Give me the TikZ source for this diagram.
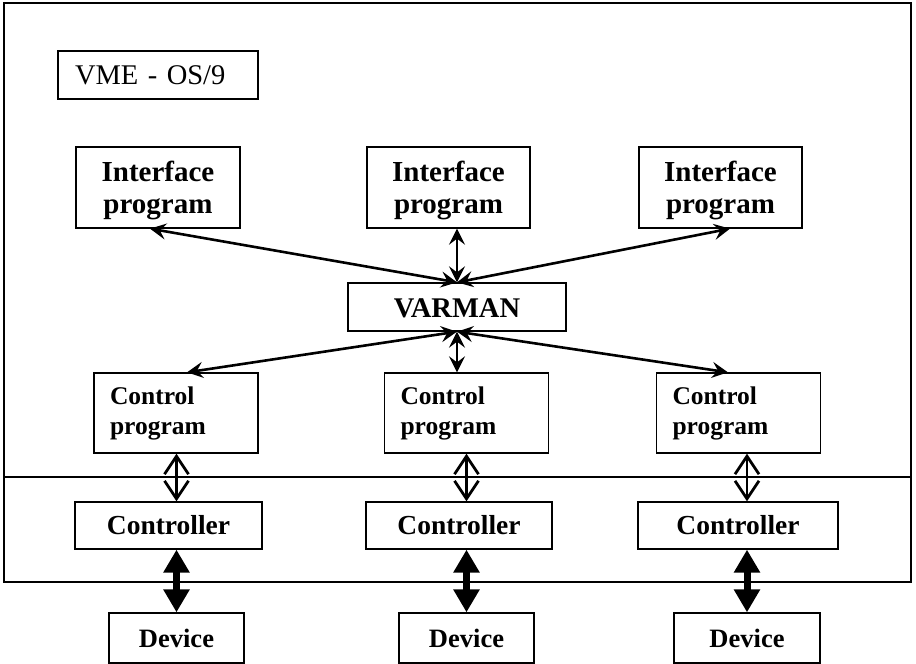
\documentclass[tikz,border=0pt]{standalone}
\usepackage{fontspec}
\setmainfont{Liberation Serif}
\usetikzlibrary{arrows.meta}
\begin{document}
\begin{tikzpicture}[x=1pt,y=-1pt,
  box/.style={draw,line width=1.3pt,inner sep=0pt,align=center,font=\bfseries},
  ifbox/.style={box,minimum width=#1,minimum height=81pt,font=\bfseries\fontsize{29}{32}\selectfont},
  cpbox/.style={box,text width=132pt,inner xsep=16pt,minimum height=80pt,align=left,font=\bfseries\fontsize{25.5}{30}\selectfont},
  ctlbox/.style={box,minimum width=#1,minimum height=47pt,font=\bfseries\fontsize{27.5}{28}\selectfont},
  devbox/.style={box,minimum width=#1,minimum height=50pt,font=\bfseries\fontsize{26.5}{28}\selectfont},
  thinarrow/.style={line width=2.6pt,{Stealth[length=16pt,width=16pt,inset=6pt]}-{Stealth[length=16pt,width=16pt,inset=6pt]}},
  openarrow/.style={line width=2.4pt,{Straight Barb[length=18pt,width=24pt,line width=2.8pt]}-{Straight Barb[length=18pt,width=24pt,line width=2.8pt]}},
  fatarrow/.style={line width=7pt,{Triangle[length=23pt,width=25pt]}-{Triangle[length=23pt,width=25pt]}},
  frame/.style={line width=1.5pt}]
\useasboundingbox (0,0) rectangle (916,664);
\fill[white] (0,0) rectangle (916,664);
% frame
\draw[frame] (4,3) rectangle (911,582);
\draw[frame] (4,477) -- (911,477);
% VME label
\node[box,text width=166pt,inner xsep=17pt,minimum height=48pt,align=left,font=\fontsize{28.5}{30}\selectfont] (vme) at (158,75) {VME - OS/9};
% interface programs
\node[ifbox=164pt] (il) at (158,187.5) {\rule{0pt}{26pt}Interface\\program};
\node[ifbox=163pt] (im) at (448.5,187.5) {\rule{0pt}{26pt}Interface\\program};
\node[ifbox=163pt] (ir) at (720.5,187.5) {\rule{0pt}{26pt}Interface\\program};
% VARMAN
\node[box,minimum width=218pt,minimum height=48pt,font=\bfseries\fontsize{28.5}{30}\selectfont] (var) at (457,307) {\rule{0pt}{22pt}VARMAN};
% control programs
\node[cpbox] (cl) at (176,413) {Control\\program};
\node[cpbox] (cm) at (466.5,413) {Control\\program};
\node[cpbox] (cr) at (738.5,413) {Control\\program};
% controllers
\node[ctlbox=187pt] (kl) at (168.5,525.5) {Controller};
\node[ctlbox=186pt] (km) at (459,525.5) {Controller};
\node[ctlbox=200pt] (kr) at (738,525.5) {Controller};
% devices
\node[devbox=135pt] (dl) at (176.5,638) {Device};
\node[devbox=135pt] (dm) at (466.5,638) {Device};
\node[devbox=146pt] (dr) at (747,638) {Device};
% interface <-> VARMAN
\draw[thinarrow] ([xshift=-8pt]il.south) -- (var.north);
\draw[thinarrow] ([xshift=8.5pt]im.south) -- (var.north);
\draw[thinarrow] ([xshift=9.5pt]ir.south) -- (var.north);
% VARMAN <-> control
\draw[thinarrow] ([xshift=11pt]cl.north) -- (var.south);
\draw[thinarrow] ([xshift=-9.5pt]cm.north) -- (var.south);
\draw[thinarrow] ([xshift=-10.5pt]cr.north) -- (var.south);
% control <-> controller
\draw[openarrow] (cl.south -| dl.north) -- (kl.north -| dl.north);
\draw[openarrow] (cm.south -| dm.north) -- (km.north -| dm.north);
\draw[openarrow] (cr.south -| dr.north) -- (kr.north -| dr.north);
% controller <-> device
\draw[fatarrow] (kl.south -| dl.north) -- (dl.north);
\draw[fatarrow] (km.south -| dm.north) -- (dm.north);
\draw[fatarrow] (kr.south -| dr.north) -- (dr.north);
\end{tikzpicture}
\end{document}
